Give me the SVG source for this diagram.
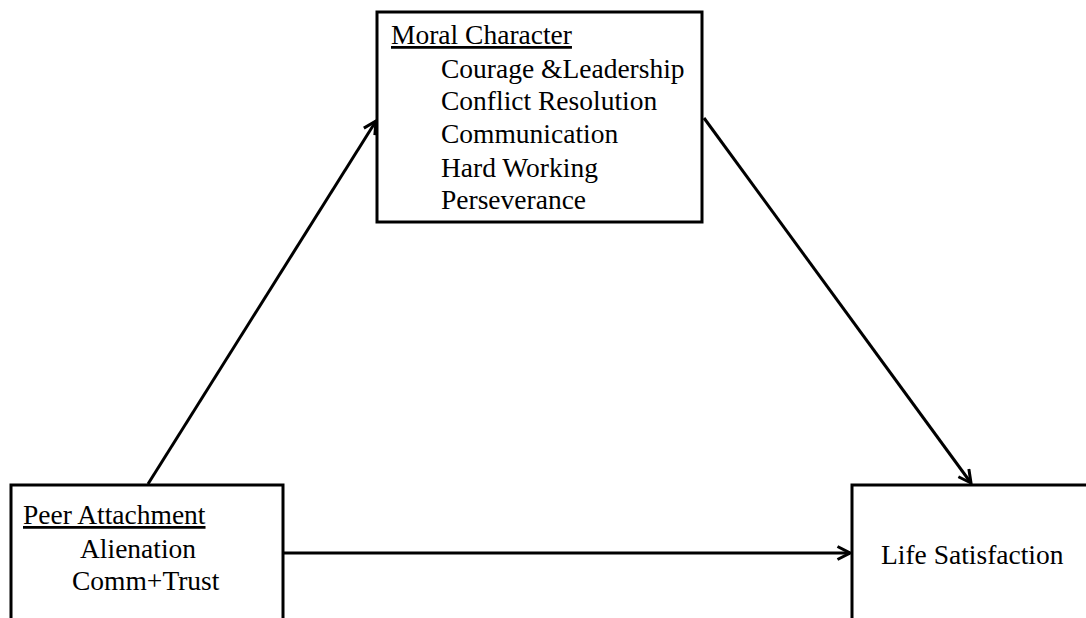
<svg xmlns="http://www.w3.org/2000/svg" width="1086" height="618" viewBox="0 0 1086 618">
<style>
.box{fill:#fff;stroke:#000;stroke-width:3}
.t{font-family:"Liberation Serif","Times New Roman",serif;font-size:27.5px;fill:#000}
.c{stroke:#000;stroke-width:3;fill:none}
</style>
<defs>
<marker id="ah" viewBox="0 0 16 16" refX="14.5" refY="8" markerWidth="16" markerHeight="16" markerUnits="userSpaceOnUse" orient="auto">
<path d="M2,1.5 L14.5,8 L2,14.5" fill="none" stroke="#000" stroke-width="3"/>
</marker>
</defs>
<rect width="1086" height="618" fill="#fff"/>
<g id="connectors">
<line class="c" x1="148" y1="484" x2="376" y2="121" marker-end="url(#ah)"/>
<line class="c" x1="704" y1="118" x2="971" y2="483" marker-end="url(#ah)"/>
<line class="c" x1="284" y1="553" x2="850" y2="553" marker-end="url(#ah)"/>
</g>
<g id="moral">
<rect class="box" x="377" y="12" width="325" height="210"/>
<text class="t" x="391" y="44" text-decoration="underline">Moral Character</text>
<text class="t" x="441" y="78">Courage &amp;Leadership</text>
<text class="t" x="441" y="110">Conflict  Resolution</text>
<text class="t" x="441" y="143">Communication</text>
<text class="t" x="441" y="177">Hard Working</text>
<text class="t" x="441" y="209">Perseverance</text>
</g>
<g id="peer">
<rect class="box" x="11" y="485" width="272" height="140"/>
<text class="t" x="23" y="524" text-decoration="underline">Peer Attachment</text>
<text class="t" x="80" y="558">Alienation</text>
<text class="t" x="72" y="590">Comm+Trust</text>
</g>
<g id="life">
<rect class="box" x="852" y="485" width="250" height="140"/>
<text class="t" x="881" y="564">Life Satisfaction</text>
</g>
</svg>
